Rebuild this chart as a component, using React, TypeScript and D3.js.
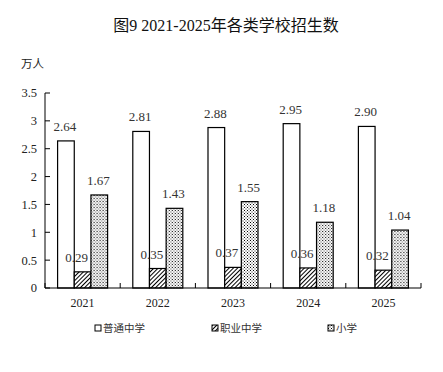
import React from 'react';
import * as d3 from 'd3';

// data
const years = ['2021', '2022', '2023', '2024', '2025'];
const seriesNames = ['普通中学', '职业中学', '小学'];
const general = [2.64, 2.81, 2.88, 2.95, 2.9];
const vocational = [0.29, 0.35, 0.37, 0.36, 0.32];
const primary = [1.67, 1.43, 1.55, 1.18, 1.04];
const yTicks = [0, 0.5, 1, 1.5, 2, 2.5, 3, 3.5];

const seriesValues = [general, vocational, primary];
const fills = ['#fff', 'url(#hatch)', 'url(#dots)'];
const labelShift = [-1, -6, -1];

const W = 443;
const H = 372;
const serif = "'Liberation Serif', 'Noto Sans CJK SC', serif";
const cjk = "'Noto Sans CJK SC', sans-serif";

const App = () => {
  const margin = { left: 45, right: 22, top: 93, bottom: 84 };
  const x0 = d3.scaleBand<string>()
    .domain(years)
    .range([margin.left, W - margin.right])
    .paddingInner(0.335)
    .paddingOuter(0.1675);
  const x1 = d3.scaleBand<string>()
    .domain(seriesNames)
    .range([0, x0.bandwidth()])
    .padding(0);
  const y = d3.scaleLinear()
    .domain([0, 3.5])
    .range([H - margin.bottom, margin.top]);

  const step = x0.step();
  const axisY = y(0);
  const boundaries = d3.range(years.length + 1).map(i => margin.left + i * step);

  const legendX = [95, 212, 328];

  return (
    <svg width={W} height={H} style={{ position: 'absolute', left: 0, top: 0, background: '#fff' }}>
      <defs>
        <pattern id="hatch" patternUnits="userSpaceOnUse" width="3" height="3" patternTransform="rotate(45)">
          <rect width="3" height="3" fill="#fff" />
          <line x1="0" y1="0" x2="0" y2="3" stroke="#000" strokeWidth="2" />
        </pattern>
        <pattern id="dots" patternUnits="userSpaceOnUse" width="3" height="3">
          <rect width="3" height="3" fill="#fff" />
          <rect x="0" y="0" width="1" height="1" fill="#000" />
          <rect x="1.5" y="1.5" width="1" height="1" fill="#222" />
        </pattern>
      </defs>

      <text x={226} y={31} textAnchor="middle" fontFamily={serif} fontSize={16} fill="#111">
        图9 2021-2025年各类学校招生数
      </text>
      <text x={21} y={68} fontFamily={cjk} fontSize={11.5} fill="#222">万人</text>

      {/* y axis */}
      <line x1={margin.left} x2={margin.left} y1={y(3.5)} y2={axisY} stroke="#000" />
      {yTicks.map(t => (
        <g key={t}>
          <line x1={margin.left} x2={margin.left + 5} y1={y(t)} y2={y(t)} stroke="#000" />
          <text x={37} y={y(t)} dy="0.35em" textAnchor="end" fontFamily={serif} fontSize={12.5} fill="#222">
            {d3.format('')(t)}
          </text>
        </g>
      ))}

      {/* bars */}
      {years.map((yr, i) => (
        <g key={yr} transform={`translate(${x0(yr)},0)`}>
          {seriesNames.map((s, j) => {
            const v = seriesValues[j][i];
            const bx = x1(s) as number;
            return (
              <g key={s}>
                <rect x={bx} y={y(v)} width={x1.bandwidth()} height={axisY - y(v)}
                  fill={fills[j]} stroke="#000" strokeWidth={1.2} />
                <text x={bx + x1.bandwidth() / 2 + labelShift[j]} y={y(v) - 10} textAnchor="middle"
                  fontFamily={serif} fontSize={13} fill="#333">
                  {d3.format('.2f')(v)}
                </text>
              </g>
            );
          })}
        </g>
      ))}

      {/* x axis */}
      <line x1={margin.left} x2={W - margin.right} y1={axisY} y2={axisY} stroke="#000" strokeWidth={1.2} />
      {boundaries.map((bx, i) => (
        <line key={i} x1={bx} x2={bx} y1={axisY} y2={axisY - 5} stroke="#000" />
      ))}
      {years.map(yr => (
        <text key={yr} x={(x0(yr) as number) + x0.bandwidth() / 2} y={307} textAnchor="middle"
          fontFamily={serif} fontSize={12} fill="#222">
          {yr}
        </text>
      ))}

      {/* legend */}
      {seriesNames.map((s, j) => (
        <g key={s} transform={`translate(${legendX[j]},325)`}>
          <rect x={0} y={0} width={6} height={6} fill={fills[j]} stroke="#000" strokeWidth={1} />
          <text x={8} y={3} dy="0.38em" fontFamily={cjk} fontSize={10.5} fill="#333">{s}</text>
        </g>
      ))}
    </svg>
  );
};

export default App;
